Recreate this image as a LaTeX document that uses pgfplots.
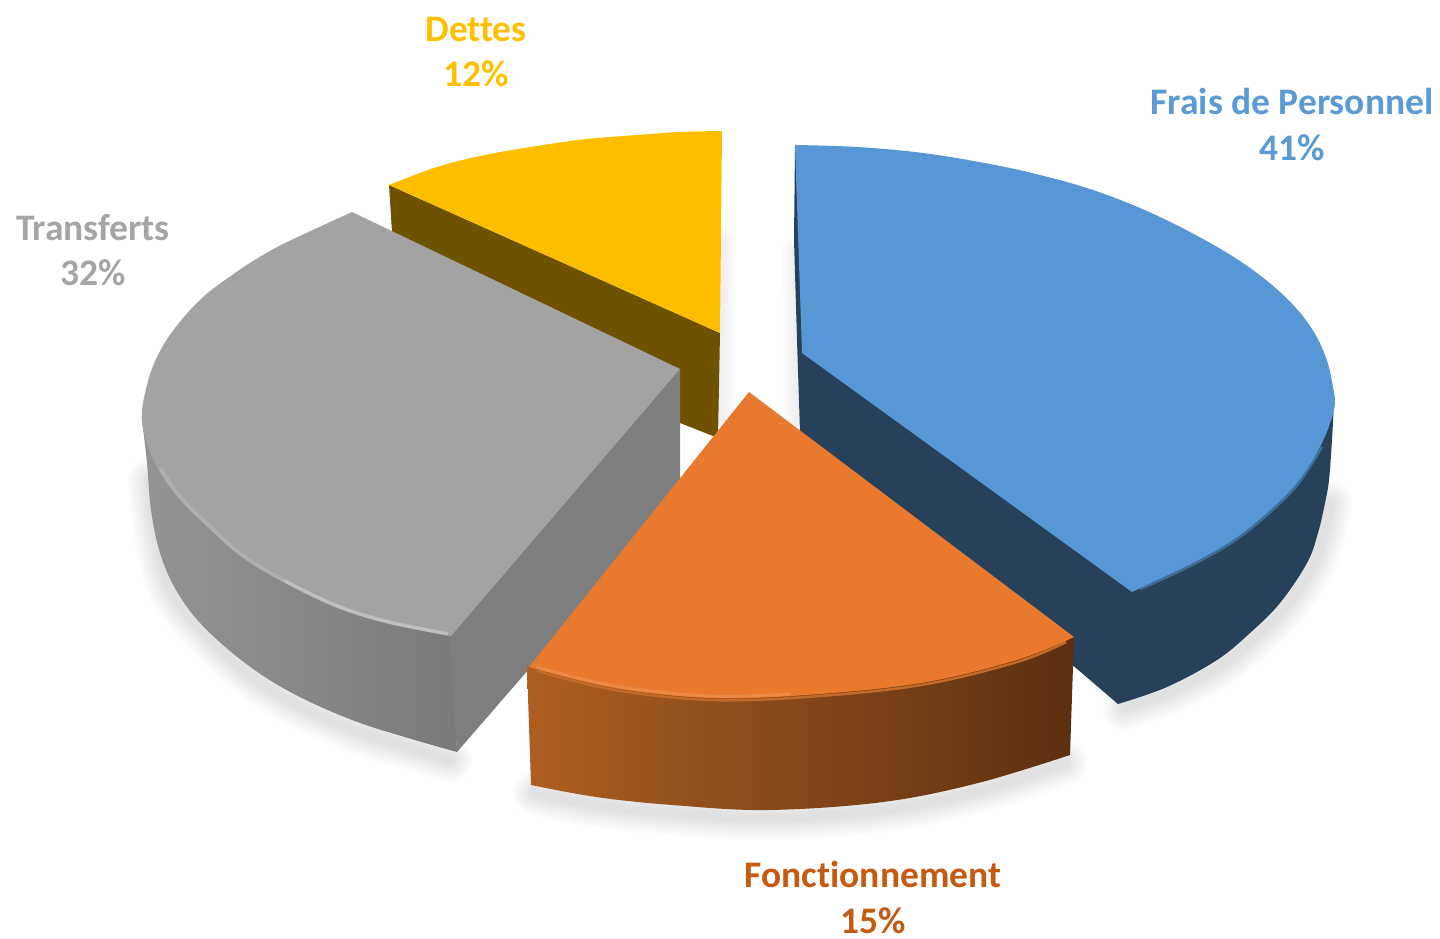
\documentclass[border=0pt]{standalone}
\usepackage{pgfplots}
\pgfplotsset{compat=1.18}
\usepackage{fontspec}
\setmainfont[Ligatures=NoCommon]{Carlito}
\definecolor{blueT}{HTML}{5797D6}
\definecolor{blueS}{HTML}{264159}
\definecolor{blueR}{HTML}{3F6D98}
\definecolor{orangeT}{HTML}{E97A2D}
\definecolor{orangeR}{HTML}{C46A28}
\definecolor{grayT}{HTML}{A3A3A3}
\definecolor{grayS}{HTML}{7E7E7E}
\definecolor{yelT}{HTML}{FDBE00}
\definecolor{yelS}{HTML}{6E5200}
\definecolor{lblB}{HTML}{5B9BD5}
\definecolor{lblO}{HTML}{C55A11}
\definecolor{lblG}{HTML}{A5A5A5}
\definecolor{lblY}{HTML}{FFC000}
\definecolor{oL}{HTML}{AE5E20}
\definecolor{oM}{HTML}{83471A}
\definecolor{oR}{HTML}{5C2F0F}
\definecolor{gL}{HTML}{949494}
\definecolor{gR}{HTML}{7A7A7A}
\newcommand{\lbl}[4]{\node[align=center,font=\fontsize{37.5}{45.5}\selectfont\bfseries,text=#4,inner sep=0pt] at (axis cs:#1,#2) {#3};}
\begin{document}
\begin{tikzpicture}[x=1pt,y=1pt]
\path[use as bounding box] (0,0) rectangle (1440pt,939pt);
\begin{axis}[at={(0,0)},anchor=south west,scale only axis,width=1440pt,height=939pt,
  xmin=0,xmax=1440,ymin=0,ymax=939,y dir=reverse,hide axis,clip=false]
% soft shadows
\foreach \w in {44,40,36,32,28,24,20,16,12,8}{
 \edef\temp{\noexpand\addplot[smooth,tension=.6,draw=black,opacity=0.011,line width=\w pt,line cap=round,forget plot] coordinates {(150,480)(155,530)(170,588)(204,632)(247,673)(294,703)(354,730)(410,748)(450,760)};
 \noexpand\addplot[smooth,tension=.6,draw=black,opacity=0.011,line width=\w pt,line cap=round,forget plot] coordinates {(535,793)(596,805)(672,813)(768,818)(883,810)(978,791)(1065,763)};
 \noexpand\addplot[smooth,tension=.6,draw=black,opacity=0.011,line width=\w pt,line cap=round,forget plot] coordinates {(1125,708)(1172,691)(1222,664)(1255,637)(1285,607)(1312,567)(1323,537)(1330,503)};}
 \temp
}
\foreach \w in {26,21,16,11,6}{
 \edef\temp{\noexpand\addplot[draw=black,opacity=0.012,line width=\w pt,line cap=round,forget plot] coordinates {(722,240)(722,425)};
 \noexpand\addplot[draw=black,opacity=0.012,line width=\w pt,line cap=round,forget plot] coordinates {(795,250)(797,420)};}
 \temp
}
% yellow
\addplot[fill=yelS,draw=none,forget plot] coordinates {(389,185)(720,333)(718,438)(680,423)(392,232)} --cycle;
\addplot[fill=yelT,draw=none,smooth,tension=.6,forget plot] coordinates {(389,185)(437,167)(485,155)(537,146)(587,139)(637,135)(680,132)(722,131)} -- (axis cs:720,333) -- cycle;
% blue
\addplot[fill=blueS,draw=none,smooth,tension=.6,forget plot] coordinates {(1334,400)(1332,440)(1329,480)(1325,503)(1318,533)(1307,563)(1280,603)(1250,633)(1217,660)(1167,687)(1118,704)} -- (axis cs:800,432) -- (axis cs:797,340) -- (axis cs:794,240) -- (axis cs:795,146) -- cycle;
\addplot[draw=blueR,line width=2.5pt,smooth,tension=.6,forget plot] coordinates {(1322,447)(1298,484)(1268,514)(1234,541)(1194,564)(1154,583)(1140,589)};
\addplot[fill=blueT,draw=none,smooth,tension=.6,forget plot] coordinates {(795,145)(857,147)(923,153)(990,164)(1040,175)(1090,189)(1140,208)(1190,232)(1240,261)(1280,292)(1308,323)(1325,355)(1333,387)(1334,410)(1320,447)(1297,483)(1267,513)(1233,540)(1193,563)(1153,582)(1132,592)} -- (axis cs:802,353) -- cycle;
% grey
\addplot[left color=gL,right color=gR,draw=none,smooth,tension=.6,forget plot] coordinates {(142,420)(147,463)(151,510)(160,553)(176,590)(202,625)(245,663)(292,693)(352,720)(408,738)(457,752)} -- (axis cs:451,636) -- cycle;
\addplot[fill=grayS,draw=none,forget plot] coordinates {(449,636)(680,369)(680,495)(457,752)} --cycle;
\addplot[fill=grayT,draw=none,smooth,tension=.6,forget plot] coordinates {(352,212)(302,235)(268,252)(235,273)(202,298)(175,328)(158,355)(147,385)(142,422)(155,463)(178,497)(208,527)(242,557)(285,583)(335,607)(385,623)(451,636)} -- (axis cs:680,369) -- cycle;
\addplot[draw=white,opacity=.14,line width=4pt,smooth,tension=.6,forget plot] coordinates {(160,468)(180,497)(208,525)(242,555)(285,581)(335,605)(385,621)(448,634)};
\addplot[draw=white,opacity=.22,line width=3pt,smooth,tension=.6,forget plot] coordinates {(285,581)(335,605)(385,621)(448,634)};
% orange
\addplot[left color=oL,right color=oR,middle color=oM,draw=none,smooth,tension=.6,forget plot] coordinates {(531,785)(596,797)(672,805)(768,810)(883,802)(978,783)(1070,755)} -- (axis cs:1074,637) -- (axis cs:527,667) -- cycle;
\addplot[draw=orangeR,line width=2.5pt,smooth,tension=.6,forget plot] coordinates {(537,671)(615,690)(710,700)(806,697)(921,685)(1017,662)(1066,642)};
\addplot[fill=orangeT,draw=none,smooth,tension=.6,forget plot] coordinates {(529,667)(615,688)(710,698)(806,695)(921,683)(1017,660)(1074,637)} -- (axis cs:749,392) -- cycle;
\addplot[draw=white,opacity=.12,line width=3pt,smooth,tension=.6,forget plot] coordinates {(536,667)(615,686)(710,696)(790,694)};
% labels
\lbl{1292}{124.5}{Frais de Personnel\\41\%}{lblB}
\lbl{873}{897.5}{Fonctionnement\\15\%}{lblO}
\lbl{93}{250}{Transferts\\32\%}{lblG}
\lbl{476}{52}{Dettes\\12\%}{lblY}
\end{axis}
\end{tikzpicture}
\end{document}
